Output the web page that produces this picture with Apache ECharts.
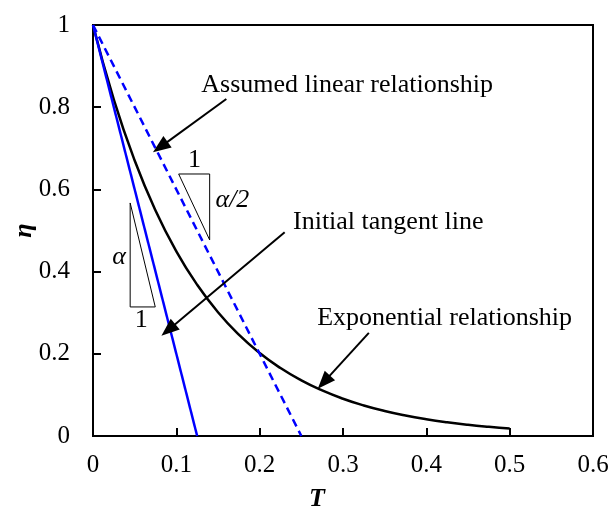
<!DOCTYPE html>
<html>
<head>
<meta charset="utf-8">
<script src="https://cdn.jsdelivr.net/npm/echarts@6/dist/echarts.min.js"></script>
<style>html,body{margin:0;padding:0;background:#fff}#c{width:611px;height:506px}</style>
</head>
<body>
<div id="c"></div>
<script>
// ---- data ----
const expT = [0,0.025,0.05,0.075,0.1,0.125,0.15,0.175,0.2,0.225,0.25,0.275,0.3,0.325,0.35,0.375,0.4,0.425,0.45,0.475,0.5];
const expEta = [1,0.8187,0.6703,0.5488,0.4493,0.3679,0.3012,0.2466,0.2019,0.1653,0.1353,0.1108,0.0907,0.0743,0.0608,0.0498,0.0408,0.0334,0.0273,0.0224,0.0183];
const linT = [0, 0.25];
const linEta = [1, 0];
const tanT = [0, 0.125];
const tanEta = [1, 0];
const xTicks = [0,0.1,0.2,0.3,0.4,0.5,0.6];
const yTicks = [0,0.2,0.4,0.6,0.8,1];

// annotations (data-space)
const annoTexts = ['Assumed linear relationship','Initial tangent line','Exponential relationship'];
const annoPos = [[0.130,0.854],[0.240,0.521],[0.269,0.287]];
const arrowFrom = [[0.160,0.820],[0.230,0.496],[0.331,0.251]];
const arrowTo = [[0.0807,0.703],[0.0904,0.258],[0.277,0.131]];
const tri1 = [[0.1028,0.6375],[0.140,0.6375],[0.140,0.477],[0.1028,0.6375]];
const tri2 = [[0.0446,0.567],[0.0446,0.314],[0.0747,0.314],[0.0446,0.567]];
const triTexts = ['1','α/2','α','1'];
const triTextPos = [[0.1217,0.6715],[0.147,0.574],[0.0313,0.4355],[0.0578,0.282]];

const FONT = 'Liberation Serif';
const zip = (a,b)=>a.map((v,i)=>[v,b[i]]);

const chart = echarts.init(document.getElementById('c'), null, {renderer:'canvas'});
const series = [
  {type:'line', data: zip(expT,expEta), smooth:true, showSymbol:false, lineStyle:{color:'#000',width:2.5}, z:3},
  {type:'line', data: zip(linT,linEta), showSymbol:false, lineStyle:{color:'#0000ff',width:2.5,type:[8,5]}, z:3},
  {type:'line', data: zip(tanT,tanEta), showSymbol:false, lineStyle:{color:'#0000ff',width:2.5}, z:3},
  {type:'line', data: tri1, showSymbol:false, lineStyle:{color:'#000',width:1}, z:2},
  {type:'line', data: tri2, showSymbol:false, lineStyle:{color:'#000',width:1}, z:2},
  {type:'line', data: [], markLine:{silent:true, symbol:['none','triangle'], symbolSize:[14,18],
     lineStyle:{color:'#000',width:2,type:'solid'}, label:{show:false},
     data: arrowFrom.map((f,i)=>[{coord:f},{coord:arrowTo[i]}])}},
  {type:'scatter', symbolSize:0, itemStyle:{opacity:1}, silent:true,
     data: annoPos.map((p,i)=>({value:p, name:annoTexts[i]})),
     label:{show:true, position:'right', distance:0, formatter:p=>p.name, color:'#000', opacity:1, fontFamily:FONT, fontSize:26}},
  {type:'scatter', symbolSize:0, itemStyle:{opacity:1}, silent:true,
     data: triTextPos.map((p,i)=>({value:p, name:triTexts[i]})),
     label:{show:true, position:'inside', formatter:p=>p.name, color:'#000', opacity:1, fontFamily:FONT, fontSize:26}}
];
series[7].data[1].label = {position:'right', distance:0, fontStyle:'italic'};
series[7].data[2].label = {fontStyle:'italic'};

chart.setOption({
  animation:false,
  backgroundColor:'#fff',
  grid:{left:93, top:25, right:18, bottom:70, outerBoundsMode:'none', containLabel:false,
    show:true, borderColor:'#000', borderWidth:2},
  xAxis:{type:'value', min:0, max:0.6, interval:0.1,
    name:'T', nameLocation:'middle', nameGap:50, nameMoveOverlap:false,
    nameTextStyle:{fontFamily:FONT, fontSize:26, fontWeight:'bold', fontStyle:'italic', color:'#000', padding:[0,52,0,0]},
    axisLine:{show:true, lineStyle:{color:'#000', width:2}},
    axisTick:{show:true, inside:true, length:8, lineStyle:{color:'#000', width:2}},
    axisLabel:{color:'#000', fontFamily:FONT, fontSize:25, margin:17,
      formatter:v=>{const t=xTicks.find(k=>Math.abs(k-v)<1e-9);return t===undefined?'':String(t);}},
    splitLine:{show:false}},
  yAxis:{type:'value', min:0, max:1, interval:0.2,
    name:'η', nameLocation:'middle', nameGap:56, nameMoveOverlap:false,
    nameTextStyle:{fontFamily:FONT, fontSize:26, fontWeight:'bold', fontStyle:'italic', color:'#000'},
    axisLine:{show:true, lineStyle:{color:'#000', width:2}},
    axisTick:{show:true, inside:true, length:8, lineStyle:{color:'#000', width:2}},
    axisLabel:{color:'#000', fontFamily:FONT, fontSize:25, margin:23,
      formatter:v=>{const t=yTicks.find(k=>Math.abs(k-v)<1e-9);return t===undefined?'':String(t);}},
    splitLine:{show:false}},
  series
});
</script>
</body>
</html>
